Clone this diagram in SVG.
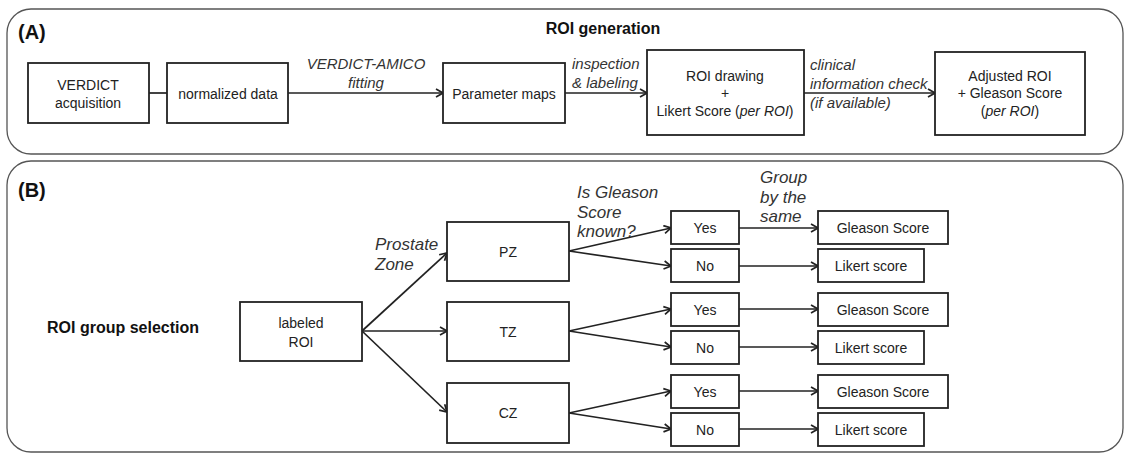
<svg xmlns="http://www.w3.org/2000/svg" width="1128" height="454" viewBox="0 0 1128 454">
<style>
.panel{fill:none;stroke:#555;stroke-width:1.3}
.box{fill:#fff;stroke:#222;stroke-width:1.8}
.t{font-family:"Liberation Sans",Arial,sans-serif;font-size:14px;fill:#222;text-anchor:middle}
.i{font-family:"Liberation Sans",Arial,sans-serif;font-size:15px;font-style:italic;fill:#333}
.ib{font-family:"Liberation Sans",Arial,sans-serif;font-size:17px;font-style:italic;fill:#333}
.b{font-family:"Liberation Sans",Arial,sans-serif;font-weight:bold;fill:#111}
.c{fill:none;stroke:#222;stroke-width:1.7}
</style>
<defs>
<marker id="ar" viewBox="0 0 10 10" refX="9" refY="5" markerWidth="10" markerHeight="10" markerUnits="userSpaceOnUse" orient="auto">
<path d="M2,1 L9,5 L2,9" fill="none" stroke="#222" stroke-width="1.7"/>
</marker>
</defs>
<rect width="1128" height="454" fill="#fff"/>
<g id="panelA">
<rect class="panel" x="7" y="9" width="1116" height="145" rx="24"/>
<text class="b" x="18" y="39" font-size="20">(A)</text>
<text class="b" x="603" y="34" font-size="16" text-anchor="middle">ROI generation</text>
</g>
<g id="panelB">
<rect class="panel" x="7" y="161" width="1116" height="291" rx="24"/>
<text class="b" x="18" y="197" font-size="20">(B)</text>
<text class="b" x="47" y="333" font-size="16">ROI group selection</text>
</g>
<g id="connectors">
<line class="c" x1="149" y1="93" x2="167" y2="93"/>
<line class="c" x1="288" y1="93" x2="443" y2="93" marker-end="url(#ar)"/>
<line class="c" x1="565" y1="93" x2="647" y2="93" marker-end="url(#ar)"/>
<line class="c" x1="804" y1="93" x2="935" y2="93" marker-end="url(#ar)"/>
<line class="c" x1="362" y1="331" x2="447" y2="253" marker-end="url(#ar)"/>
<line class="c" x1="362" y1="331" x2="447" y2="331" marker-end="url(#ar)"/>
<line class="c" x1="362" y1="331" x2="447" y2="412" marker-end="url(#ar)"/>
<line class="c" x1="569" y1="251" x2="671" y2="228" marker-end="url(#ar)"/>
<line class="c" x1="569" y1="251" x2="671" y2="266" marker-end="url(#ar)"/>
<line class="c" x1="569" y1="331" x2="671" y2="309" marker-end="url(#ar)"/>
<line class="c" x1="569" y1="331" x2="671" y2="347" marker-end="url(#ar)"/>
<line class="c" x1="569" y1="413" x2="671" y2="391" marker-end="url(#ar)"/>
<line class="c" x1="569" y1="413" x2="671" y2="429" marker-end="url(#ar)"/>
<line class="c" x1="739" y1="228" x2="818" y2="228" marker-end="url(#ar)"/>
<line class="c" x1="739" y1="266" x2="818" y2="266" marker-end="url(#ar)"/>
<line class="c" x1="739" y1="309" x2="818" y2="309" marker-end="url(#ar)"/>
<line class="c" x1="739" y1="347" x2="818" y2="347" marker-end="url(#ar)"/>
<line class="c" x1="739" y1="391" x2="818" y2="391" marker-end="url(#ar)"/>
<line class="c" x1="739" y1="429" x2="818" y2="429" marker-end="url(#ar)"/>
</g>
<g id="labels">
<text class="i" x="366" y="69" text-anchor="middle" font-size="14">VERDICT-AMICO</text>
<text class="i" x="366" y="88" text-anchor="middle">fitting</text>
<text class="i" x="572" y="69">inspection</text>
<text class="i" x="572" y="88">&amp; labeling</text>
<text class="i" x="810" y="70">clinical</text>
<text class="i" x="810" y="89">information check</text>
<text class="i" x="810" y="108">(if available)</text>
<text class="ib" x="375" y="250">Prostate</text>
<text class="ib" x="375" y="270">Zone</text>
<text class="ib" x="577" y="198">Is Gleason</text>
<text class="ib" x="577" y="218">Score</text>
<text class="ib" x="577" y="237">known?</text>
<text class="ib" x="760" y="183">Group</text>
<text class="ib" x="760" y="203">by the</text>
<text class="ib" x="760" y="222">same</text>
</g>
<g id="n-verdict"><rect class="box" x="28" y="63" width="121" height="60"/><text class="t" x="88" y="90">VERDICT</text><text class="t" x="88" y="108">acquisition</text></g>
<g id="n-normalized"><rect class="box" x="167" y="63" width="121" height="60"/><text class="t" x="228" y="99">normalized data</text></g>
<g id="n-parameter"><rect class="box" x="443" y="63" width="122" height="60"/><text class="t" x="504" y="99">Parameter maps</text></g>
<g id="n-roidrawing"><rect class="box" x="647" y="50" width="157" height="85"/><text class="t" x="725" y="81">ROI drawing</text><text class="t" x="725" y="98">+</text><text class="t" x="725" y="116">Likert Score (<tspan font-style="italic">per ROI</tspan>)</text></g>
<g id="n-adjusted"><rect class="box" x="935" y="52" width="150" height="83"/><text class="t" x="1010" y="81">Adjusted ROI</text><text class="t" x="1010" y="98">+ Gleason Score</text><text class="t" x="1010" y="116">(<tspan font-style="italic">per ROI</tspan>)</text></g>
<g id="n-labeled"><rect class="box" x="240" y="302" width="122" height="59"/><text class="t" x="301" y="328">labeled</text><text class="t" x="301" y="347">ROI</text></g>
<g id="n-pz"><rect class="box" x="447" y="222" width="122" height="59"/><text class="t" x="508" y="257">PZ</text></g>
<g id="n-tz"><rect class="box" x="447" y="302" width="122" height="59"/><text class="t" x="508" y="337">TZ</text></g>
<g id="n-cz"><rect class="box" x="447" y="383" width="122" height="60"/><text class="t" x="508" y="418">CZ</text></g>
<g id="n-pz-yes"><rect class="box" x="671" y="211" width="68" height="33"/><text class="t" x="705" y="233">Yes</text></g>
<g id="n-pz-no"><rect class="box" x="671" y="249" width="68" height="33"/><text class="t" x="705" y="271">No</text></g>
<g id="n-tz-yes"><rect class="box" x="671" y="293" width="68" height="33"/><text class="t" x="705" y="315">Yes</text></g>
<g id="n-tz-no"><rect class="box" x="671" y="331" width="68" height="33"/><text class="t" x="705" y="353">No</text></g>
<g id="n-cz-yes"><rect class="box" x="671" y="375" width="68" height="33"/><text class="t" x="705" y="397">Yes</text></g>
<g id="n-cz-no"><rect class="box" x="671" y="413" width="68" height="33"/><text class="t" x="705" y="435">No</text></g>
<g id="n-pz-gs"><rect class="box" x="818" y="211" width="130" height="33"/><text class="t" x="883" y="233">Gleason Score</text></g>
<g id="n-pz-lk"><rect class="box" x="818" y="249" width="106" height="33"/><text class="t" x="871" y="271">Likert score</text></g>
<g id="n-tz-gs"><rect class="box" x="818" y="293" width="130" height="33"/><text class="t" x="883" y="315">Gleason Score</text></g>
<g id="n-tz-lk"><rect class="box" x="818" y="331" width="106" height="33"/><text class="t" x="871" y="353">Likert score</text></g>
<g id="n-cz-gs"><rect class="box" x="818" y="375" width="130" height="33"/><text class="t" x="883" y="397">Gleason Score</text></g>
<g id="n-cz-lk"><rect class="box" x="818" y="413" width="106" height="33"/><text class="t" x="871" y="435">Likert score</text></g>
</svg>
